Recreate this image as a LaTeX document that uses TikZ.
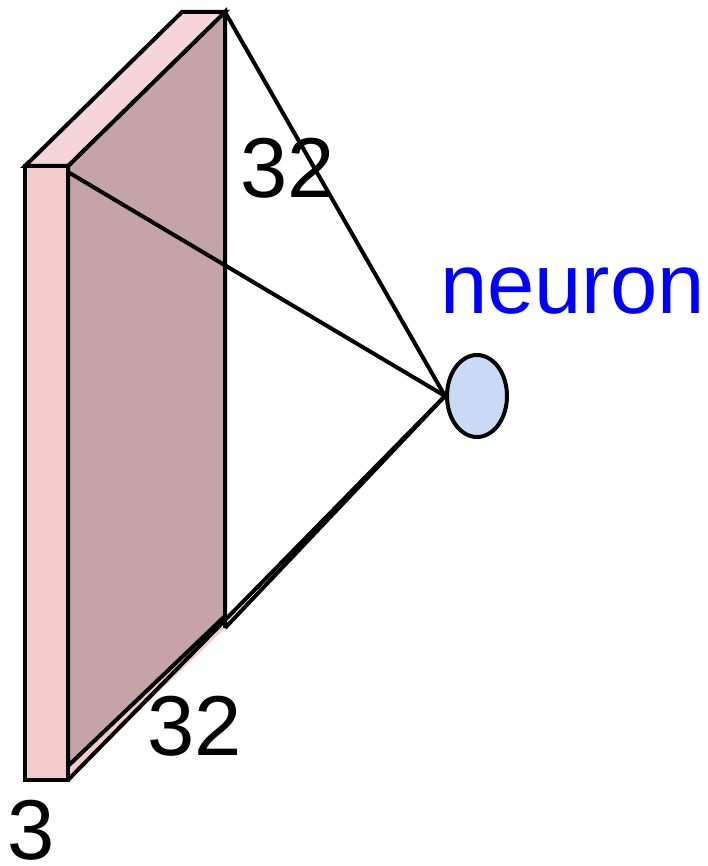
\documentclass[tikz,border=0pt]{standalone}
\usepackage{fontspec}
\setmainfont{Liberation Sans}
\usetikzlibrary{shapes.geometric,calc}
\definecolor{frontpink}{HTML}{F4CBCB}
\definecolor{toppink}{HTML}{F5D5D9}
\definecolor{darkface}{HTML}{C4A4A6}
\definecolor{neuronblue}{HTML}{C9DAF6}
\definecolor{labelblue}{HTML}{0000FF}
\begin{document}
\begin{tikzpicture}[x=1pt,y=-1pt,
  edge/.style={line width=4pt, line join=miter},
  lbl/.style={inner sep=0pt, anchor=base west, text depth=0pt, font=\fontsize{85}{100}\selectfont}]
\useasboundingbox (0,0) rectangle (708,866);
% corners
\coordinate (ftl) at (25,166);
\coordinate (ftr) at (68,166);
\coordinate (fbr) at (68,780);
\coordinate (btl) at (182,12);
\coordinate (btr) at (225,12);
\coordinate (bbr) at (225,628);
\coordinate (dbl) at (68,766);
\coordinate (dbr) at (225,616);
\coordinate (fcn) at (68,172);
% right face (pink underlayer) and dark region
\fill[frontpink] (ftr) -- (btr) -- (bbr) -- (fbr) -- cycle;
\filldraw[fill=darkface, edge] (ftr) -- (btr) -- (dbr) -- (dbl) -- cycle;
% top face
\filldraw[fill=toppink, edge] (ftl) -- (btl) -- (btr) -- (ftr) -- cycle;
% front face
\filldraw[fill=frontpink, edge] (ftl) rectangle (fbr);
% back vertical edge
\draw[edge] (btr) -- (bbr);
% neuron
\node[ellipse, draw, fill=neuronblue, line width=4pt, minimum width=60pt, minimum height=82pt, inner sep=0pt] (n) at (477,396) {};
% labels
\node[lbl] (t32) at (240,198) {32};
\node[lbl] (b32) at (147,755) {32};
\node[lbl] (d3) at (7,859) {3};
\node[lbl, text=labelblue] (lab) at (440,313) {neuron};
% connections
\draw[edge] (btr) -- (n.west);
\draw[edge] (fcn) -- (n.west);
\draw[edge] (fbr) -- (n.west);
\draw[edge] (bbr) -- (n.west);
\end{tikzpicture}
\end{document}
